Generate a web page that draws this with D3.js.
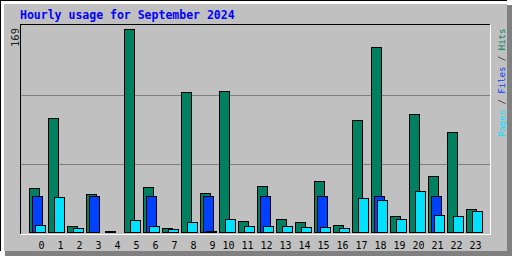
<!DOCTYPE html>
<html><head><meta charset="utf-8">
<script src="https://cdn.jsdelivr.net/npm/d3@7"></script>
<style>html,body{margin:0;padding:0;background:#fff;}svg{display:block;}</style>
</head><body>
<script>
const hours = ["0","1","2","3","4","5","6","7","8","9","10","11","12","13","14","15","16","17","18","19","20","21","22","23"];
const hits  = [37,95,6,32,2,169,38,4,117,33,118,10,39,12,9,43,7,94,154,14,99,47,84,20];
const files = [31,0,0,31,0,0,31,0,0,31,0,0,31,0,0,31,0,0,31,0,0,31,0,0];
const pages = [7,30,4,0,0,11,6,3,9,2,12,6,6,6,5,5,4,29,27,12,35,15,14,18];
const yMaxLabel = "169";
const title = "Hourly usage for September 2024";

const W = 512, H = 256;
const col = {hits:"#008060", files:"#0040ff", pages:"#00e0ff"};
const svg = d3.select("body").append("svg").attr("width", W).attr("height", H);

// outer panel with shadow and bevel
svg.append("rect").attr("x",5).attr("y",5).attr("width",507).attr("height",251).attr("fill","#808080");
svg.append("rect").attr("x",0).attr("y",0).attr("width",507).attr("height",251).attr("fill","#fff");
svg.append("rect").attr("x",4).attr("y",4).attr("width",503).attr("height",247).attr("fill","#c0c0c0");
svg.append("line").attr("x1",0).attr("x2",507).attr("y1",0.5).attr("y2",0.5).attr("stroke","#000");
svg.append("line").attr("x1",0.5).attr("x2",0.5).attr("y1",0).attr("y2",251).attr("stroke","#000");

// title
svg.append("text").attr("x",20).attr("y",19)
  .attr("font-family","DejaVu Sans Mono").attr("font-weight","bold").attr("font-size","11.5px")
  .attr("fill","#0000ff").text(title);

// plot frame
const pl = 20, pt = 24, pr = 491, pb = 235;
svg.append("rect").attr("x",pl).attr("y",pt).attr("width",pr-pl).attr("height",pb-pt).attr("fill","#c0c0c0");
svg.append("line").attr("x1",pl).attr("x2",pr).attr("y1",pt+0.5).attr("y2",pt+0.5).attr("stroke","#000");
svg.append("line").attr("x1",pl+0.5).attr("x2",pl+0.5).attr("y1",pt).attr("y2",pb).attr("stroke","#000");
svg.append("line").attr("x1",pl).attr("x2",pr).attr("y1",pb-0.5).attr("y2",pb-0.5).attr("stroke","#fff");
svg.append("line").attr("x1",pr-0.5).attr("x2",pr-0.5).attr("y1",pt).attr("y2",pb).attr("stroke","#fff");

// grid lines at thirds
const grid = d3.scaleLinear().domain([0,3]).range([pb-1, pt+1]);
svg.selectAll("line.grid").data([1,2]).enter().append("line").attr("class","grid")
  .attr("x1",pl+1).attr("x2",pr-1)
  .attr("y1",d=>Math.round(grid(d))+0.5).attr("y2",d=>Math.round(grid(d))+0.5)
  .attr("stroke","#808080");

// scales
const x = d3.scaleBand().domain(hours).range([29, 485]).padding(0);
const y = d3.scaleLinear().domain([0, 169]).range([233, 29.3]);

const series = [
  {key:"hits", vals:hits, off:0},
  {key:"files", vals:files, off:3},
  {key:"pages", vals:pages, off:6}
];
series.forEach(s => {
  svg.append("g").selectAll("rect")
    .data(hours.map((h,i)=>({h, v:s.vals[i]})).filter(d=>d.v>0))
    .enter().append("rect")
    .attr("x", d => x(d.h) + s.off + 0.5)
    .attr("y", d => Math.round(y(d.v)) + 0.5)
    .attr("width", 10)
    .attr("height", d => Math.max(0, Math.round(y(0)) - Math.round(y(d.v)) - 1))
    .attr("fill", col[s.key]).attr("stroke","#000").attr("stroke-width",1);
});

// x labels
svg.append("g").selectAll("text").data(hours).enter().append("text")
  .attr("x", d => x(d) + 15.5).attr("y", 248.5)
  .attr("text-anchor","end")
  .attr("font-family","DejaVu Sans Mono").attr("font-size","10px").attr("fill","#000")
  .text(d => d);

// y max label
svg.append("text").attr("transform","translate(19,28) rotate(-90)")
  .attr("text-anchor","end")
  .attr("font-family","DejaVu Sans Mono").attr("font-size","10.5px").attr("fill","#202020")
  .text(yMaxLabel);

// right legend label
const leg = svg.append("text").attr("transform","translate(505,137) rotate(-90)")
  .attr("font-family","DejaVu Sans Mono").attr("font-size","9px");
leg.append("tspan").attr("fill",col.pages).text("Pages");
leg.append("tspan").attr("fill","#303030").text(" / ");
leg.append("tspan").attr("fill",col.files).text("Files");
leg.append("tspan").attr("fill","#303030").text(" / ");
leg.append("tspan").attr("fill",col.hits).text("Hits");
</script>
</body></html>
